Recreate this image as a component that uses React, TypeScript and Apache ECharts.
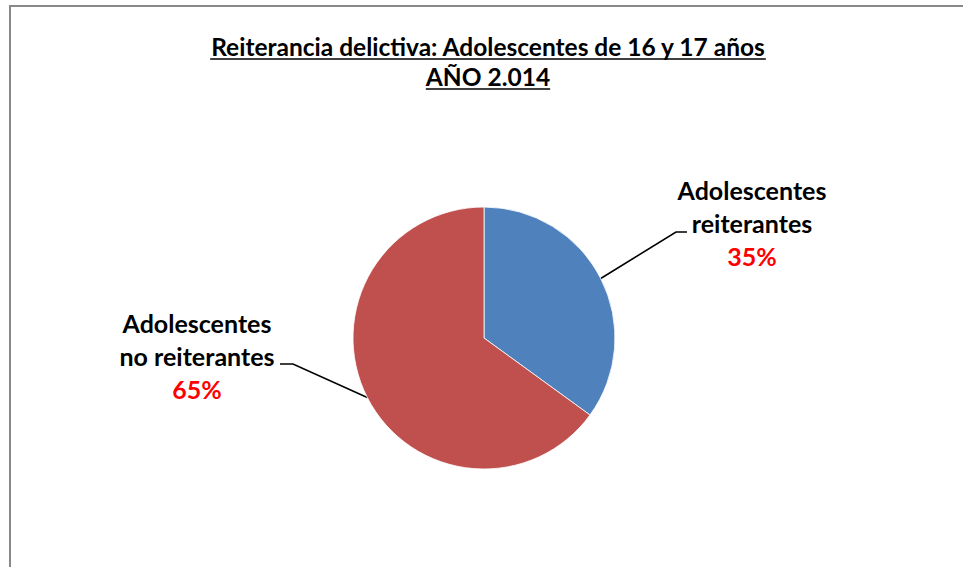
import React, { useEffect, useRef } from "react";
import * as echarts from "echarts";

const categories = ["Adolescentes reiterantes", "Adolescentes no reiterantes"];
const values = [35, 65];
const sliceColors = ["#4F81BD", "#C0504D"];
const titleLines = ["Reiterancia delictiva: Adolescentes de 16 y 17 años", "AÑO 2.014"];

// layout (positions of label blocks and their leader-line ends)
const labelCenters = [
  [752, 223],
  [197, 356],
];
const lineEnds = [
  [[676, 232], [687, 232]],
  [[293, 364], [280, 364]],
];
const PIE_CENTER = [484, 338];
const PIE_RADIUS = 131;
const FONT = "Lato";

export default function App() {
  const ref = useRef<HTMLDivElement>(null);
  useEffect(() => {
    if (!ref.current) return;
    const chart = echarts.init(ref.current, null, { renderer: "svg" });
    const canvas = document.createElement("canvas");
    const ctx = canvas.getContext("2d")!;
    const titleSize = 24.5;
    ctx.font = `bold ${titleSize}px ${FONT}`;
    const titleY = [46, 76];
    const titleX = 488;
    const graphic: any[] = [
      {
        type: "rect",
        shape: { x: 10, y: 6, width: 1200, height: 1200 },
        style: { fill: "none", stroke: "#898989", lineWidth: 2 },
        silent: true,
      },
    ];
    titleLines.forEach((t, i) => {
      const w = ctx.measureText(t).width;
      graphic.push({
        type: "text",
        x: titleX,
        y: titleY[i],
        style: {
          text: t,
          fontFamily: FONT,
          fontWeight: "bold",
          fontSize: titleSize,
          fill: "#000",
          align: "center",
          verticalAlign: "middle",
        },
      });
      graphic.push({
        type: "line",
        shape: { x1: titleX - w / 2, y1: titleY[i] + 13, x2: titleX + w / 2, y2: titleY[i] + 13 },
        style: { stroke: "#000", lineWidth: 1.4 },
      });
    });

    const total = values.reduce((a, b) => a + b, 0);
    const midAngles: number[] = [];
    let acc = 0;
    values.forEach((v) => {
      midAngles.push(((acc + v / 2) / total) * Math.PI * 2);
      acc += v;
    });

    const rich = {
      n: {
        fontFamily: FONT,
        fontWeight: "bold",
        fontSize: 25,
        color: "#000",
        align: "center",
        lineHeight: 33,
      },
      p: {
        fontFamily: FONT,
        fontWeight: "bold",
        fontSize: 25,
        color: "#FF0000",
        align: "center",
        lineHeight: 33,
      },
    };

    chart.setOption({
      animation: false,
      backgroundColor: "#ffffff",
      graphic,
      series: [
        {
          type: "pie",
          center: PIE_CENTER,
          radius: PIE_RADIUS,
          startAngle: 90,
          clockwise: true,
          data: categories.map((name, i) => ({
            name,
            value: values[i],
            itemStyle: { color: sliceColors[i] },
          })),
          itemStyle: { borderColor: "#ffffff", borderWidth: 0.8 },
          label: {
            show: true,
            position: "outside",
            align: "center",
            formatter: (p: any) => {
              const k = p.name.indexOf(" ");
              const a = p.name.slice(0, k);
              const b = p.name.slice(k + 1);
              return `{n|${a}}\n{n|${b}}\n{p|${Math.round(p.percent)}%}`;
            },
            rich,
          },
          labelLine: {
            show: true,
            lineStyle: { color: "#000", width: 1.6 },
          },
          labelLayout: (params: any) => {
            const i = params.dataIndex;
            const ang = midAngles[i];
            const start =
              params.labelLinePoints && params.labelLinePoints[0]
                ? params.labelLinePoints[0]
                : [
                    PIE_CENTER[0] + PIE_RADIUS * Math.sin(ang),
                    PIE_CENTER[1] - PIE_RADIUS * Math.cos(ang),
                  ];
            return {
              x: labelCenters[i][0],
              y: labelCenters[i][1],
              align: "center",
              verticalAlign: "middle",
              labelLinePoints: [start, lineEnds[i][0], lineEnds[i][1]],
            };
          },
          emphasis: { disabled: true },
        },
      ],
    });
    return () => chart.dispose();
  }, []);
  return (
    <div
      ref={ref}
      style={{ position: "fixed", left: 0, top: 0, width: 963, height: 567 }}
    />
  );
}
